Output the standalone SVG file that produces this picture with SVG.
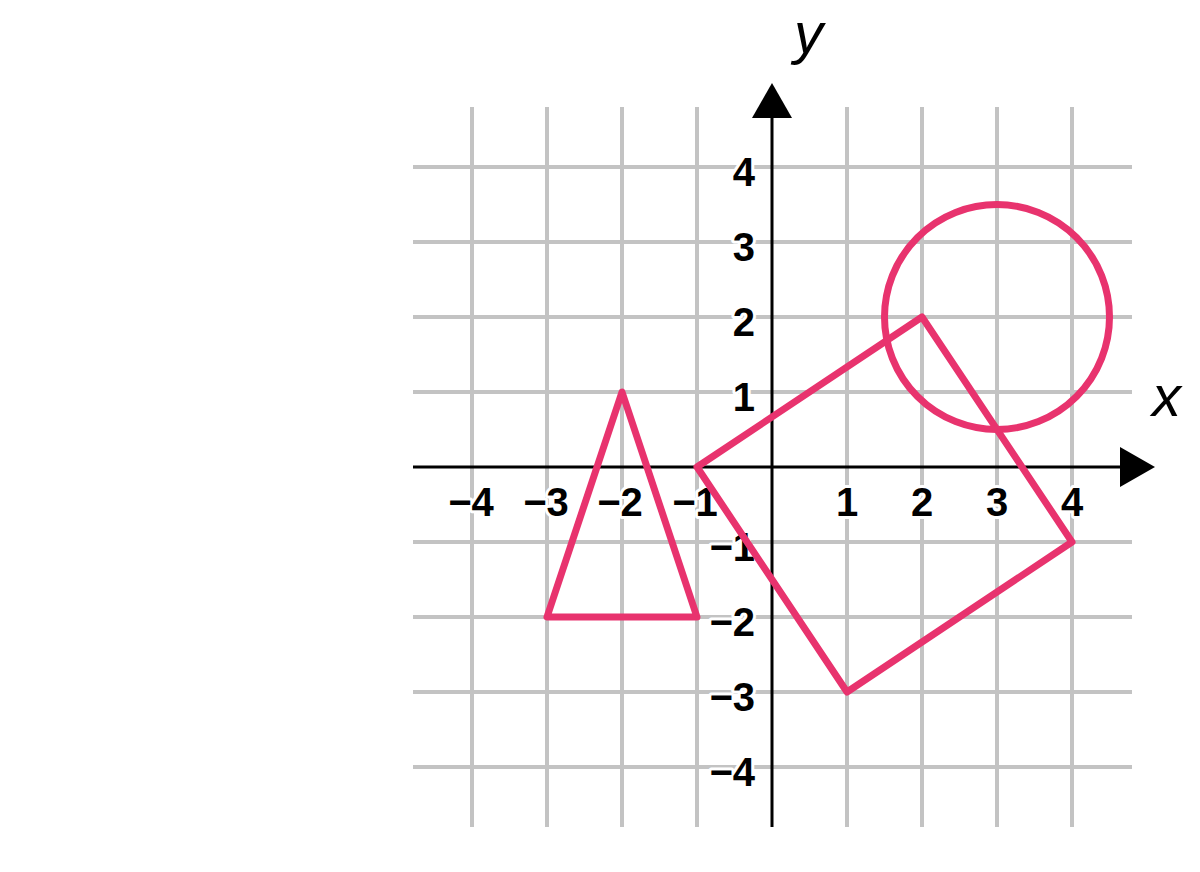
<svg xmlns="http://www.w3.org/2000/svg" width="1200" height="872" viewBox="0 0 1200 872">
<style>
.grid line{stroke:#c3c3c3;stroke-width:4}
.axis{stroke:#000;stroke-width:3}
.shape{fill:none;stroke:#e8336e;stroke-width:7;stroke-linejoin:round;stroke-linecap:round}
.lbl{font-family:"Liberation Sans",Arial,sans-serif;font-weight:bold;font-size:40px;fill:#000;stroke:#fff;stroke-width:6;paint-order:stroke;stroke-linejoin:round}
.xl{text-anchor:middle}
.yl{text-anchor:end}
.var{font-family:"Liberation Sans",Arial,sans-serif;font-style:italic;font-size:58px;fill:#000}
</style>
<rect width="1200" height="872" fill="#fff"/>
<g id="grid" class="grid">
<line x1="472" y1="107" x2="472" y2="827"/>
<line x1="547" y1="107" x2="547" y2="827"/>
<line x1="622" y1="107" x2="622" y2="827"/>
<line x1="697" y1="107" x2="697" y2="827"/>
<line x1="847" y1="107" x2="847" y2="827"/>
<line x1="922" y1="107" x2="922" y2="827"/>
<line x1="997" y1="107" x2="997" y2="827"/>
<line x1="1072" y1="107" x2="1072" y2="827"/>
<line x1="413" y1="167" x2="1132" y2="167"/>
<line x1="413" y1="242" x2="1132" y2="242"/>
<line x1="413" y1="317" x2="1132" y2="317"/>
<line x1="413" y1="392" x2="1132" y2="392"/>
<line x1="413" y1="542" x2="1132" y2="542"/>
<line x1="413" y1="617" x2="1132" y2="617"/>
<line x1="413" y1="692" x2="1132" y2="692"/>
<line x1="413" y1="767" x2="1132" y2="767"/>
</g>
<g id="axes">
<line class="axis" x1="413" y1="467" x2="1122" y2="467"/>
<polygon points="1155,467 1120,447 1120,487" fill="#000"/>
<line class="axis" x1="772" y1="827" x2="772" y2="116"/>
<polygon points="772,83 752,118 792,118" fill="#000"/>
<text class="var" x="1152" y="416">x</text>
<text class="var" x="794" y="53">y</text>
</g>
<g id="labels">
<text class="lbl xl" x="471" y="516">−4</text>
<text class="lbl xl" x="546" y="516">−3</text>
<text class="lbl xl" x="620" y="516">−2</text>
<text class="lbl xl" x="695" y="516">−1</text>
<text class="lbl xl" x="847" y="516">1</text>
<text class="lbl xl" x="922" y="516">2</text>
<text class="lbl xl" x="997" y="516">3</text>
<text class="lbl xl" x="1072" y="516">4</text>
<text class="lbl yl" x="755" y="186">4</text>
<text class="lbl yl" x="755" y="261">3</text>
<text class="lbl yl" x="755" y="336">2</text>
<text class="lbl yl" x="755" y="411">1</text>
<text class="lbl yl" x="755" y="561">−1</text>
<text class="lbl yl" x="755" y="636">−2</text>
<text class="lbl yl" x="755" y="711">−3</text>
<text class="lbl yl" x="755" y="786">−4</text>
</g>
<g id="triangle">
<polygon class="shape" points="622,392 547,617 697,617"/>
</g>
<g id="rectangle">
<polygon class="shape" points="697,467 922,317 1072,542 847,692"/>
</g>
<g id="circle">
<circle class="shape" cx="997" cy="317" r="112.5"/>
</g>
</svg>
